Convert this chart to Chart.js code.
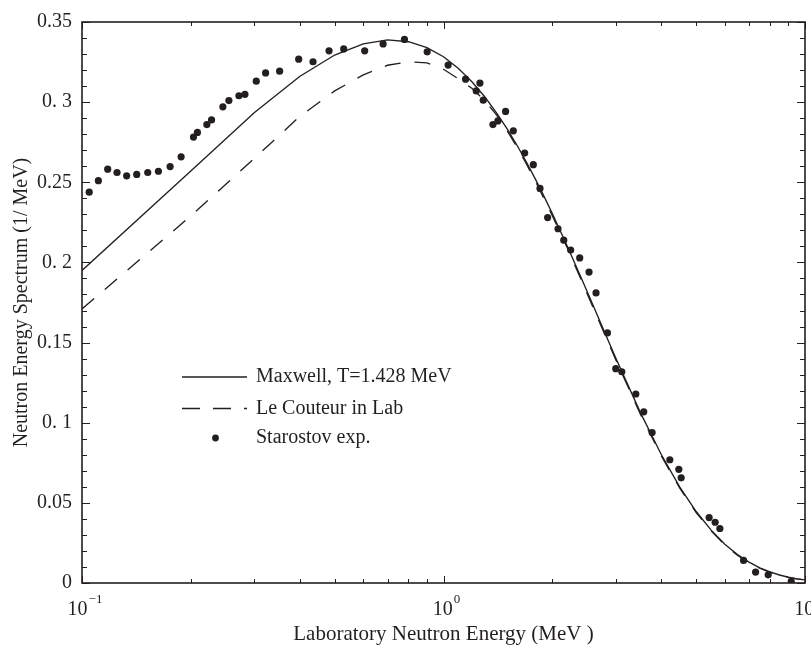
<!DOCTYPE html>
<html>
<head>
    <title>Neutron Energy Spectrum</title>
    <script src="https://cdn.jsdelivr.net/npm/chart.js"></script>
    <style>
        body { margin: 0; background: #fff; }
    </style>
</head>
<body>
    <canvas id="espectro" width="811" height="649"></canvas>

    <script>
        // Energy grid (MeV) of the two calculated spectra
        var energia = [0.1, 0.2, 0.3, 0.4, 0.5, 0.6, 0.7, 0.8, 0.9, 1.0,
                       1.1, 1.2, 1.3, 1.4, 1.5, 1.6, 1.7, 1.8, 1.9, 2.0,
                       2.2, 2.4, 2.6, 2.8, 3.0, 3.5, 4.0, 4.5, 5.0, 5.5,
                       6.0, 6.5, 7.0, 7.5, 8.0, 8.5, 9.0, 9.5, 10];
        var maxwell = [0.195, 0.257, 0.2935, 0.316, 0.3294, 0.3364, 0.3388, 0.3377, 0.334, 0.3283,
                       0.321, 0.3126, 0.3034, 0.2935, 0.2833, 0.2728, 0.2622, 0.2515, 0.2409, 0.2305,
                       0.2101, 0.1907, 0.1726, 0.1557, 0.1401, 0.1066, 0.0803, 0.06, 0.0446, 0.033,
                       0.0242, 0.0178, 0.013, 0.0095, 0.0069, 0.005, 0.0036, 0.0026, 0.0019];
        var leCouteur = [0.171, 0.229, 0.265, 0.291, 0.307, 0.317, 0.323, 0.3252, 0.3245, 0.3205,
                         0.3145, 0.3085, 0.301, 0.2922, 0.2822, 0.2717, 0.261, 0.2502, 0.2395, 0.2292,
                         0.209, 0.1895, 0.1713, 0.1545, 0.139, 0.1056, 0.0795, 0.0593, 0.044, 0.0325,
                         0.0238, 0.0174, 0.0127, 0.0092, 0.0067, 0.0049, 0.0035, 0.0026, 0.0019];

        // Starostov measured points
        var expEnergia = [0.1047, 0.111, 0.1178, 0.125, 0.1329, 0.1417, 0.152, 0.1627, 0.1753, 0.188,
                          0.2034, 0.2086, 0.2215, 0.2282, 0.2453, 0.2549, 0.2717, 0.2823, 0.3034, 0.322,
                          0.3521, 0.3976, 0.4356, 0.4824, 0.5296, 0.6053, 0.6807, 0.7798, 0.9012, 1.03,
                          1.151, 1.232, 1.261, 1.288, 1.37, 1.414, 1.485, 1.56, 1.677, 1.772,
                          1.849, 1.941, 2.074, 2.151, 2.248, 2.381, 2.527, 2.642, 2.841, 2.996,
                          3.113, 3.404, 3.581, 3.776, 4.227, 4.477, 4.544, 5.43, 5.642, 5.814,
                          6.762, 7.3, 7.91, 9.16];
        var expValor = [0.2438, 0.251, 0.2582, 0.2561, 0.254, 0.2549, 0.2561, 0.2569, 0.2598, 0.2659,
                        0.2782, 0.2811, 0.286, 0.2889, 0.2971, 0.301, 0.304, 0.3049, 0.3131, 0.3182,
                        0.3193, 0.3268, 0.3252, 0.332, 0.3332, 0.332, 0.3363, 0.3391, 0.3314, 0.3231,
                        0.3143, 0.307, 0.3119, 0.3012, 0.286, 0.2883, 0.2942, 0.2821, 0.2682, 0.261,
                        0.2462, 0.228, 0.221, 0.2139, 0.2077, 0.2028, 0.194, 0.181, 0.156, 0.1337,
                        0.1318, 0.1179, 0.1068, 0.0939, 0.0769, 0.0709, 0.0656, 0.0408, 0.0379, 0.034,
                        0.0141, 0.0068, 0.0051, 0.001];

        var yTickLabels = ['0', '0.05', '0. 1', '0.15', '0. 2', '0.25', '0. 3', '0.35'];
        var xTickValues = [0.1, 1, 10];
        var xTickExps = ['\u22121', '0', '1'];
        var legendLabels = ['Maxwell, T=1.428 MeV', 'Le Couteur in Lab', 'Starostov exp.'];

        var ink = '#231f20';
        var serif = "'Liberation Serif', 'DejaVu Serif', serif";

        function puntos(xs, ys) {
            return xs.map(function (x, i) { return { x: x, y: ys[i] }; });
        }

        // box, inward ticks on all four sides, decade labels with exponents
        var ejes = {
            id: 'ejes',
            afterDatasetsDraw: function (chart) {
                var ctx = chart.ctx, a = chart.chartArea;
                var sx = chart.scales.x, sy = chart.scales.y;
                ctx.save();
                ctx.strokeStyle = ink;
                ctx.lineWidth = 1;
                ctx.beginPath();
                for (var i = 0; i <= 35; i++) {
                    var py = Math.round(sy.getPixelForValue(i / 100)) + 0.5;
                    var len = (i % 5 === 0) ? 8 : 5;
                    ctx.moveTo(a.left, py); ctx.lineTo(a.left + len, py);
                    ctx.moveTo(a.right, py); ctx.lineTo(a.right - len, py);
                }
                [0.1, 1].forEach(function (dec) {
                    for (var m = 1; m <= 10; m++) {
                        var px = Math.round(sx.getPixelForValue(dec * m)) + 0.5;
                        var l = (m === 1 || m === 10) ? 7 : 4;
                        ctx.moveTo(px, a.bottom); ctx.lineTo(px, a.bottom - l);
                        ctx.moveTo(px, a.top); ctx.lineTo(px, a.top + l);
                    }
                });
                ctx.stroke();
                ctx.lineWidth = 1.6;
                ctx.strokeRect(a.left, a.top, a.right - a.left, a.bottom - a.top);
                ctx.restore();
            },
            afterDraw: function (chart) {
                var ctx = chart.ctx, a = chart.chartArea, sx = chart.scales.x;
                ctx.save();
                ctx.fillStyle = ink;
                ctx.textBaseline = 'middle';
                ctx.textAlign = 'left';
                xTickValues.forEach(function (v, i) {
                    var px = sx.getPixelForValue(v);
                    ctx.font = '20px ' + serif;
                    var w1 = ctx.measureText('10').width;
                    ctx.font = '13px ' + serif;
                    var w2 = ctx.measureText(xTickExps[i]).width;
                    var x0 = px + 3 - (w1 + w2 + 1) / 2;
                    ctx.font = '20px ' + serif;
                    ctx.fillText('10', x0, a.bottom + 27);
                    ctx.font = '13px ' + serif;
                    ctx.fillText(xTickExps[i], x0 + w1 + 1, a.bottom + 17);
                });
                ctx.restore();
            }
        };

        // legend sitting inside the axes, lower left
        var leyenda = {
            id: 'leyenda',
            afterDraw: function (chart) {
                var ctx = chart.ctx, a = chart.chartArea;
                var x1 = a.left + 100, x2 = a.left + 165, xt = a.left + 174;
                var filas = [a.top + 355, a.top + 386.5, a.top + 416];
                ctx.save();
                ctx.strokeStyle = ink;
                ctx.fillStyle = ink;
                ctx.lineWidth = 1.3;
                ctx.beginPath(); ctx.moveTo(x1, filas[0]); ctx.lineTo(x2, filas[0]); ctx.stroke();
                ctx.setLineDash([18, 13]);
                ctx.beginPath(); ctx.moveTo(x1, filas[1]); ctx.lineTo(x2, filas[1]); ctx.stroke();
                ctx.setLineDash([]);
                ctx.beginPath(); ctx.arc((x1 + x2) / 2 + 1, filas[2], 3.4, 0, Math.PI * 2); ctx.fill();
                ctx.font = '20px ' + serif;
                ctx.textBaseline = 'middle';
                legendLabels.forEach(function (t, i) { ctx.fillText(t, xt, filas[i]); });
                ctx.restore();
            }
        };

        var chart = new Chart(document.getElementById('espectro').getContext('2d'), {
            type: 'scatter',
            data: {
                datasets: [{
                    label: legendLabels[0],
                    data: puntos(energia, maxwell),
                    showLine: true,
                    borderColor: ink,
                    borderWidth: 1.35,
                    pointRadius: 0,
                    tension: 0
                }, {
                    label: legendLabels[1],
                    data: puntos(energia, leCouteur),
                    showLine: true,
                    borderColor: ink,
                    borderWidth: 1.35,
                    borderDash: [16, 14],
                    pointRadius: 0,
                    tension: 0
                }, {
                    label: legendLabels[2],
                    data: puntos(expEnergia, expValor),
                    showLine: false,
                    pointRadius: 3.6,
                    pointBackgroundColor: ink,
                    pointBorderWidth: 0
                }]
            },
            options: {
                responsive: false,
                animation: false,
                events: [],
                layout: { padding: { left: 0, right: 6, top: 14, bottom: 0 } },
                plugins: { legend: { display: false }, tooltip: { enabled: false } },
                scales: {
                    x: {
                        type: 'logarithmic',
                        min: 0.1,
                        max: 10,
                        grid: { display: false, drawTicks: false },
                        border: { display: false },
                        ticks: { display: false },
                        title: {
                            display: true,
                            text: 'Laboratory Neutron Energy (MeV )',
                            color: ink,
                            font: { family: serif, size: 21, lineHeight: 1.2 },
                            padding: { top: 0, bottom: 2 }
                        },
                        afterFit: function (s) { s.height = 66; }
                    },
                    y: {
                        min: 0,
                        max: 0.35,
                        grid: { display: false, drawTicks: false },
                        border: { display: false },
                        ticks: {
                            stepSize: 0.05,
                            padding: 10,
                            color: ink,
                            font: { family: serif, size: 20 },
                            callback: function (v, i) { return yTickLabels[i]; }
                        },
                        title: {
                            display: true,
                            text: 'Neutron Energy Spectrum (1/ MeV)',
                            color: ink,
                            font: { family: serif, size: 20, lineHeight: 1.2 },
                            padding: { top: 10, bottom: 0 }
                        },
                        afterFit: function (s) { s.width = 82; }
                    }
                }
            },
            plugins: [ejes, leyenda]
        });
    </script>
</body>
</html>
